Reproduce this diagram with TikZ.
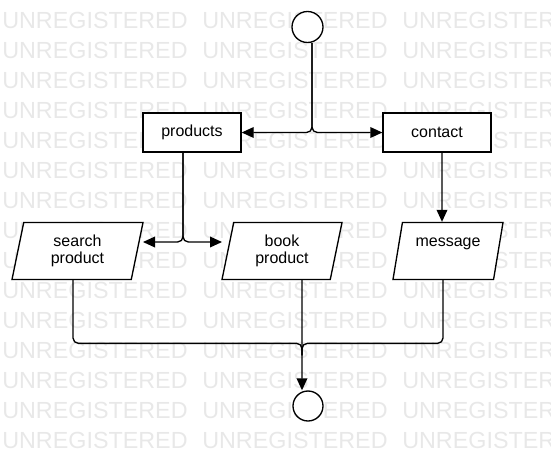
\documentclass[tikz,border=0pt]{standalone}
\usepackage{fontspec}
\setmainfont{Liberation Sans}
\usetikzlibrary{calc,arrows.meta,shapes.geometric}
\definecolor{wmgray}{RGB}{232,232,232}

\tikzset{
  wmtext/.style={anchor=base west, text=wmgray, inner sep=0pt, font=\fontsize{17.5}{17.5}\selectfont},
  proc/.style={draw, fill=white, line width=1pt, minimum height=29.25pt, inner sep=0pt, font=\fontsize{12}{13}\selectfont},
  io/.style={draw, fill=white, line width=1pt, trapezium, trapezium left angle=70, trapezium right angle=110,
    trapezium stretches body=true, minimum height=42.75pt, inner sep=0pt, align=center, font=\fontsize{12}{13}\selectfont},
  term/.style={draw, fill=white, circle, line width=1pt, inner sep=0pt},
  flow/.style={line width=1pt, rounded corners=4pt, -{Triangle[length=9pt,width=8pt]}},
  link/.style={line width=1pt, rounded corners=4pt}
}

\begin{document}
\begin{tikzpicture}[x=0.75pt,y=-0.75pt]
        \useasboundingbox (0,0) rectangle (551,472);

        %WATERMARK
        \begin{scope}
            \clip (0,0) rectangle (551,472);
            \foreach \r in {0,...,14}
                \foreach \c in {0,1,2}
                    \node[wmtext] (wm-\r-\c) at (2+200*\c, 28+30*\r) {UNREGISTERED};
        \end{scope}

        %NODES
        \node[term, minimum size=23.25pt] (start) at (307.5,27) {};
        \node[proc, minimum width=73.5pt] (products) at (192,132.5) {products};
        \node[proc, minimum width=81pt] (contact) at (437,132.5) {contact};
        \node[io, minimum width=98.25pt] (search) at (77.5,251) {search\\product};
        \node[io, minimum width=90pt] (book) at (282,251) {book\\product};
        \node[io, minimum width=82.5pt] (message) at (448,251) {message\\\mbox{}};
        \node[term, minimum size=22.5pt] (finish) at (308,406) {};
        \coordinate (join) at ($(finish.north)+(-6,-47)$);

        %ARROWS
        \draw[flow] ($(start.south)+(4.5,0)$) |- (products.east);
        \draw[flow] ($(start.south)+(4.5,0)$) |- (contact.west);

        \draw[flow] ($(products.south)+(-9,0)$) |- ($(search.center)+(65.5,-9)$);
        \draw[flow] ($(products.south)+(-9,0)$) |- ($(book.center)+(-60,-9)$);

        \draw[flow] ($(contact.south)+(5,0)$) -- ($(message.north)+(-6,0)$);

        \draw[link] ($(search.south)+(-4.5,0)$) |- (join) -- ($(join)+(0,12)$);
        \draw[link] ($(message.south)+(-5,0)$) |- (join) -- ($(join)+(0,12)$);
        \draw[flow] ($(book.south)+(20,0)$) -- ($(finish.north)+(-6,0)$);
    \end{tikzpicture}
\end{document}
